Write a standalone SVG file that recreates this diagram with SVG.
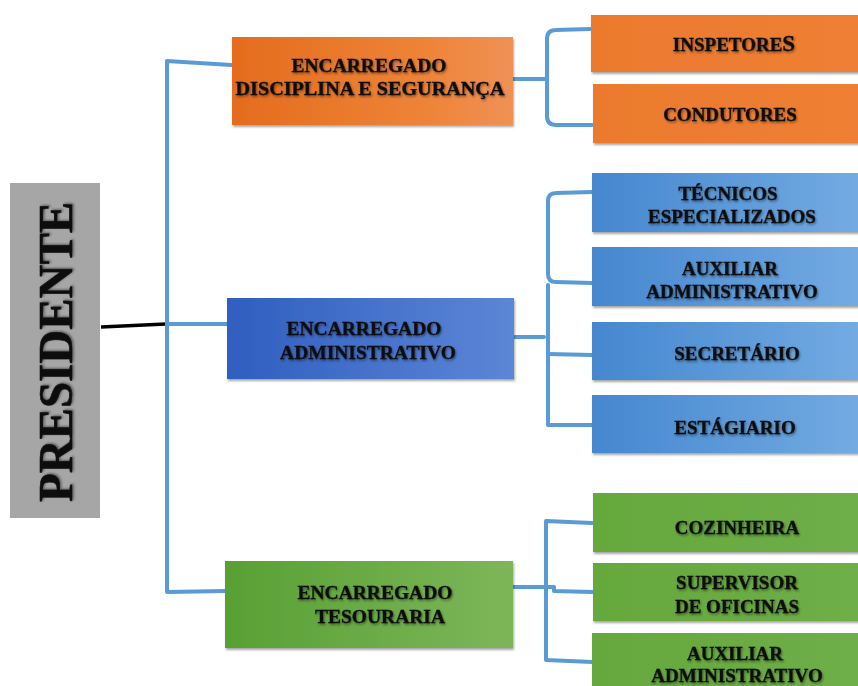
<svg xmlns="http://www.w3.org/2000/svg" width="858" height="686" viewBox="0 0 858 686">
<defs>
<linearGradient id="gOrange" x1="0" y1="0" x2="1" y2="0"><stop offset="0" stop-color="#E46C1E"/><stop offset="0.7" stop-color="#EE8438"/><stop offset="1" stop-color="#EF9156"/></linearGradient>
<linearGradient id="gOrangeC" x1="0" y1="0" x2="1" y2="0"><stop offset="0" stop-color="#EC7A2E"/><stop offset="1" stop-color="#EE7F34"/></linearGradient>
<linearGradient id="gBlue" x1="0" y1="0" x2="1" y2="0"><stop offset="0" stop-color="#2F5EC0"/><stop offset="1" stop-color="#5C86D6"/></linearGradient>
<linearGradient id="gBlueC" x1="0" y1="0" x2="1" y2="0"><stop offset="0" stop-color="#4587CF"/><stop offset="1" stop-color="#73ABE2"/></linearGradient>
<linearGradient id="gGreen" x1="0" y1="0" x2="1" y2="0"><stop offset="0" stop-color="#58A034"/><stop offset="1" stop-color="#7DB659"/></linearGradient>
<linearGradient id="gGreenC" x1="0" y1="0" x2="1" y2="0"><stop offset="0" stop-color="#65A83D"/><stop offset="1" stop-color="#6FAE48"/></linearGradient>
<filter id="bshadow" x="-5%" y="-10%" width="112%" height="130%"><feDropShadow dx="1" dy="2" stdDeviation="1.2" flood-color="#000" flood-opacity="0.35"/></filter>
<filter id="tshadow" x="-5%" y="-20%" width="110%" height="150%"><feDropShadow dx="1" dy="1.5" stdDeviation="0.8" flood-color="#000" flood-opacity="0.45"/></filter>
</defs>
<style>
.t{font-family:"Liberation Serif","Times New Roman",serif;font-weight:bold;font-size:19.5px;fill:#111;stroke:#111;stroke-width:0.35px;text-anchor:middle;filter:url(#tshadow)}
.c{font-size:19px}
.con{fill:none;stroke:#5B9BD5;stroke-width:4;stroke-linejoin:round;stroke-linecap:round}
.box{filter:url(#bshadow)}
</style>

<g id="connectors">
<path d="M101,327 L166,324" fill="none" stroke="#000" stroke-width="3.5"/>
<path class="con" d="M231,65 L167,61 L167,592 L225,591"/>
<path class="con" d="M167,324 L227,324"/>
<path class="con" d="M513,79 L546,79"/>
<path class="con" d="M590,29 L556,30 Q547,30 547,39 L547,116 Q547,125 556,125 L592,125"/>
<path class="con" d="M514,337 L544,337"/>
<path class="con" d="M592,192 L556,193 Q548,193 548,201 L548,274 Q548,282 556,282 L592,283"/>
<path class="con" d="M548,285 L548,425 L592,425"/>
<path class="con" d="M548,354 L592,355"/>
<path class="con" d="M513,587 L554,587 L554,591 L592,592"/>
<path class="con" d="M592,523 L546,521 L546,660 L592,662"/>
</g>

<g id="presidente">
<rect x="10" y="183" width="90" height="335" fill="#A6A6A6"/>
<text class="t" transform="translate(72,352) rotate(-90)" style="font-size:48px;stroke-width:0.6px" textLength="300" lengthAdjust="spacingAndGlyphs">PRESIDENTE</text>
</g>

<g id="enc-disciplina">
<rect class="box" x="232" y="37" width="281" height="88" fill="url(#gOrange)"/>
<text class="t" x="369" y="72">ENCARREGADO</text>
<text class="t" x="370" y="95" textLength="269" lengthAdjust="spacingAndGlyphs">DISCIPLINA E SEGURANÇA</text>
</g>

<g id="inspetores">
<rect class="box" x="591" y="15" width="270" height="57" fill="url(#gOrangeC)"/>
<text class="t c" x="734" y="51">INSPETORE<tspan style="font-size:23px">S</tspan></text>
</g>
<g id="condutores">
<rect class="box" x="593" y="84" width="268" height="59" fill="url(#gOrangeC)"/>
<text class="t c" x="730" y="121">CONDUTORES</text>
</g>

<g id="enc-administrativo">
<rect class="box" x="227" y="298" width="287" height="81" fill="url(#gBlue)"/>
<text class="t" x="364" y="335">ENCARREGADO</text>
<text class="t" x="368" y="359">ADMINISTRATIVO</text>
</g>

<g id="tecnicos">
<rect class="box" x="592" y="173" width="269" height="59" fill="url(#gBlueC)"/>
<text class="t c" x="728" y="200">TÉCNICOS</text>
<text class="t c" x="732" y="223">ESPECIALIZADOS</text>
</g>
<g id="auxiliar-adm">
<rect class="box" x="592" y="247" width="269" height="59" fill="url(#gBlueC)"/>
<text class="t c" x="730" y="275">AUXILIAR</text>
<text class="t c" x="732" y="298">ADMINISTRATIVO</text>
</g>
<g id="secretario">
<rect class="box" x="592" y="322" width="269" height="58" fill="url(#gBlueC)"/>
<text class="t c" x="737" y="360">SECRETÁRIO</text>
</g>
<g id="estagiario">
<rect class="box" x="592" y="395" width="269" height="58" fill="url(#gBlueC)"/>
<text class="t c" x="735" y="434">ESTÁGIARIO</text>
</g>

<g id="enc-tesouraria">
<rect class="box" x="225" y="561" width="288" height="87" fill="url(#gGreen)"/>
<text class="t" x="375" y="599">ENCARREGADO</text>
<text class="t" x="380" y="623">TESOURARIA</text>
</g>

<g id="cozinheira">
<rect class="box" x="593" y="493" width="268" height="59" fill="url(#gGreenC)"/>
<text class="t c" x="737" y="534">COZINHEIRA</text>
</g>
<g id="supervisor">
<rect class="box" x="593" y="563" width="268" height="58" fill="url(#gGreenC)"/>
<text class="t c" x="737" y="589">SUPERVISOR</text>
<text class="t c" x="737" y="613">DE OFICINAS</text>
</g>
<g id="auxiliar-tes">
<rect class="box" x="592" y="633" width="269" height="60" fill="url(#gGreenC)"/>
<text class="t c" x="735" y="660">AUXILIAR</text>
<text class="t c" x="737" y="682">ADMINISTRATIVO</text>
</g>
</svg>
